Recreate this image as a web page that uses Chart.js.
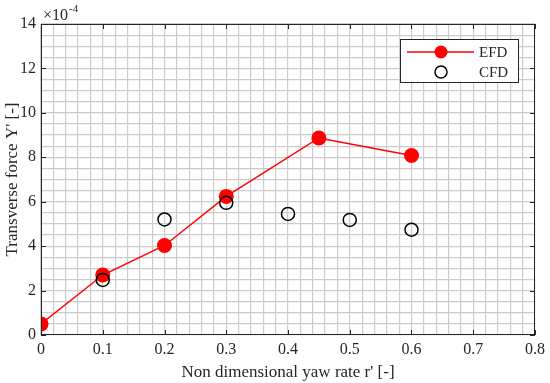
<!DOCTYPE html>
<html>
<head>
<meta charset="utf-8">
<script src="https://cdn.jsdelivr.net/npm/chart.js@4.4.0/dist/chart.umd.min.js"></script>
<style>
  html, body { margin: 0; padding: 0; background: #fff; }
  #wrap { width: 550px; height: 383px; }
</style>
</head>
<body>
<div id="wrap"><canvas id="chart"></canvas></div>
<script>
// yaw rate r' [-]
const efdX = [0, 0.1, 0.2, 0.3, 0.45, 0.6];
// transverse force Y' in units of 1e-4
const efdY = [0.5, 2.7, 4.03, 6.24, 8.87, 8.08];
const cfdX = [0.1, 0.2, 0.3, 0.4, 0.5, 0.6];
const cfdY = [2.48, 5.2, 5.95, 5.45, 5.18, 4.74];

const xTicks = [0, 0.1, 0.2, 0.3, 0.4, 0.5, 0.6, 0.7, 0.8];
const yTicks = [0, 2, 4, 6, 8, 10, 12, 14];

const serif = "'Liberation Serif', 'Times New Roman', serif";
const axisColor = '#262626';

const isMajor = (v, list) => list.some(t => Math.abs(t - v) < 1e-6);

// box, inward tick marks, exponent label and legend (MATLAB look)
const matlabAxes = {
  id: 'matlabAxes',
  afterDraw(chart) {
    const { ctx, chartArea: a, scales } = chart;
    const x = scales.x, y = scales.y;
    ctx.save();
    ctx.strokeStyle = axisColor;
    ctx.lineWidth = 1;
    ctx.strokeRect(a.left + 0.5, a.top + 0.5, a.right - a.left - 1, a.bottom - a.top - 1);
    ctx.beginPath();
    xTicks.forEach(v => {
      const px = Math.round(x.getPixelForValue(v)) + 0.5;
      ctx.moveTo(px, a.bottom); ctx.lineTo(px, a.bottom - 5);
      ctx.moveTo(px, a.top); ctx.lineTo(px, a.top + 5);
    });
    yTicks.forEach(v => {
      const py = Math.round(y.getPixelForValue(v)) + 0.5;
      ctx.moveTo(a.left, py); ctx.lineTo(a.left + 5, py);
      ctx.moveTo(a.right, py); ctx.lineTo(a.right - 5, py);
    });
    ctx.stroke();

    // x10^-4 exponent
    ctx.fillStyle = axisColor;
    ctx.textBaseline = 'alphabetic';
    ctx.font = '16px ' + serif;
    ctx.fillText('\u00d710', a.left + 2, 20);
    const w = ctx.measureText('\u00d710').width;
    ctx.font = '11px ' + serif;
    ctx.fillText('-4', a.left + 2 + w + 1, 12);

    // legend
    const lx = 400, ly = 39, lw = 118, lh = 43;
    ctx.fillStyle = '#fff';
    ctx.fillRect(lx, ly, lw, lh);
    ctx.strokeStyle = axisColor;
    ctx.strokeRect(lx + 0.5, ly + 0.5, lw, lh);
    const ds = chart.data.datasets;
    const rows = [52, 72];
    ctx.font = '15px ' + serif;
    ctx.textBaseline = 'middle';
    ds.slice().sort((p, q) => p.legendRow - q.legendRow).forEach((d, i) => {
      const ry = rows[i];
      if (d.showLine) {
        ctx.strokeStyle = d.borderColor;
        ctx.lineWidth = d.borderWidth;
        ctx.beginPath(); ctx.moveTo(407, ry); ctx.lineTo(474, ry); ctx.stroke();
      }
      ctx.beginPath();
      ctx.arc(441, ry, d.legendRadius, 0, Math.PI * 2);
      if (d.pointBackgroundColor !== 'transparent') {
        ctx.fillStyle = d.pointBackgroundColor; ctx.fill();
      } else {
        ctx.strokeStyle = d.pointBorderColor; ctx.lineWidth = d.pointBorderWidth; ctx.stroke();
      }
      ctx.fillStyle = axisColor;
      ctx.fillText(d.label, 479, ry + 1);
    });
    ctx.restore();
  }
};

new Chart(document.getElementById('chart'), {
  type: 'scatter',
  data: {
    datasets: [
      {
        label: 'EFD',
        data: efdX.map((v, i) => ({ x: v, y: efdY[i] })),
        showLine: true,
        borderColor: '#ff0000',
        borderWidth: 1.5,
        pointRadius: 7.5,
        pointBackgroundColor: '#ff0000',
        pointBorderColor: '#ff0000',
        pointBorderWidth: 0,
        legendRadius: 6.5,
        legendRow: 0,
        order: 2
      },
      {
        label: 'CFD',
        data: cfdX.map((v, i) => ({ x: v, y: cfdY[i] })),
        showLine: false,
        borderColor: '#000',
        pointRadius: 6.5,
        pointBackgroundColor: 'transparent',
        pointBorderColor: '#000',
        pointBorderWidth: 1.5,
        legendRadius: 6,
        legendRow: 1,
        order: 1
      }
    ]
  },
  options: {
    responsive: true,
    maintainAspectRatio: false,
    animation: false,
    layout: { padding: { left: 0, right: 15, top: 24, bottom: 0 } },
    plugins: { legend: { display: false }, tooltip: { enabled: false } },
    scales: {
      x: {
        type: 'linear',
        min: 0, max: 0.8,
        afterFit: s => { s.height = 48; },
        border: { display: false },
        grid: { color: '#cccccc', lineWidth: 1.2, drawTicks: false },
        ticks: {
          stepSize: 0.02,
          autoSkip: false,
          maxRotation: 0,
          padding: 5,
          color: axisColor,
          font: { family: serif, size: 16 },
          callback: v => isMajor(v, xTicks) ? String(Math.round(v * 10) / 10) : ''
        },
        title: {
          display: true,
          text: "Non dimensional yaw rate r' [-]",
          color: axisColor,
          padding: { top: 2, bottom: 0 },
          font: { family: serif, size: 17 }
        }
      },
      y: {
        type: 'linear',
        min: 0, max: 14,
        afterFit: s => { s.width = 41; },
        border: { display: false },
        grid: { color: '#cccccc', lineWidth: 1.2, drawTicks: false },
        ticks: {
          stepSize: 0.5,
          autoSkip: false,
          padding: 5,
          color: axisColor,
          font: { family: serif, size: 16 },
          callback: v => isMajor(v, yTicks) ? String(Math.round(v)) : ''
        },
        title: {
          display: true,
          text: "Transverse force Y' [-]",
          color: axisColor,
          padding: { top: 2, bottom: 0 },
          font: { family: serif, size: 17 }
        }
      }
    }
  },
  plugins: [matlabAxes]
});
</script>
</body>
</html>
